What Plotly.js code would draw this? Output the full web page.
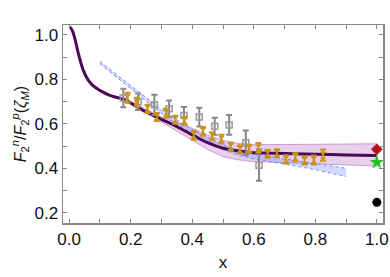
<!DOCTYPE html>
<html>
<head>
<meta charset="utf-8">
<script src="https://cdn.plot.ly/plotly-3.0.1.min.js"></script>
<style>html,body{margin:0;padding:0;background:#fff;}#chart{width:390px;height:277px;}</style>
</head>
<body>
<div id="chart"></div>
<script>
// Main curve
const curveX = [0.002,0.01,0.02,0.03,0.046,0.062,0.075,0.09,0.11,0.13,0.155,0.18,0.21,0.24,0.27,0.30,0.35,0.40,0.45,0.50,0.55,0.60,0.65,0.70,0.80,0.90,1.0];
const curveY = [1.035,1.02,0.975,0.915,0.84,0.796,0.775,0.759,0.742,0.729,0.718,0.708,0.685,0.66,0.64,0.62,0.587,0.55,0.515,0.49,0.478,0.47,0.468,0.466,0.463,0.46,0.457];
// Pink uncertainty band
const bandX = [0.2,0.25,0.3,0.35,0.4,0.45,0.5,0.55,0.6,0.7,0.8,0.9,1.0];
const bandUp = [0.70,0.665,0.63,0.605,0.58,0.55,0.525,0.512,0.506,0.507,0.509,0.51,0.51];
const bandLo = [0.69,0.652,0.608,0.568,0.527,0.485,0.452,0.438,0.43,0.425,0.42,0.415,0.41];
// Blue band
const blueX = [0.1,0.15,0.2,0.25,0.3,0.35,0.4,0.45,0.5,0.55,0.6,0.65,0.7,0.8,0.9];
const blueUp = [0.88,0.826,0.772,0.718,0.664,0.618,0.574,0.54,0.506,0.481,0.466,0.453,0.442,0.422,0.40];
const blueLo = [0.87,0.814,0.758,0.702,0.646,0.6,0.556,0.52,0.484,0.459,0.442,0.431,0.418,0.394,0.362];
// Gold data points
const goldX = [0.19,0.22,0.255,0.285,0.315,0.345,0.375,0.405,0.435,0.465,0.495,0.525,0.555,0.585,0.615,0.645,0.675,0.705,0.735,0.765,0.795,0.825];
const goldY = [0.717,0.697,0.667,0.631,0.648,0.618,0.614,0.548,0.566,0.544,0.531,0.497,0.485,0.488,0.492,0.465,0.468,0.44,0.45,0.435,0.437,0.459];
const goldErr = [0.022,0.02,0.018,0.018,0.02,0.018,0.018,0.02,0.02,0.018,0.02,0.018,0.018,0.018,0.022,0.018,0.018,0.018,0.018,0.018,0.02,0.025];
// Gray data points
const grayX = [0.176,0.224,0.277,0.325,0.373,0.423,0.473,0.52,0.574,0.617];
const grayY = [0.716,0.699,0.685,0.667,0.637,0.63,0.589,0.595,0.515,0.414];
const grayErr = [0.042,0.037,0.045,0.038,0.038,0.042,0.038,0.044,0.055,0.07];
// x = 1 endpoints
const endX = [1.0];
const redY = [0.485];
const greenY = [0.427];
const blackY = [0.247];

const traces = [
  {x: bandX, y: bandLo, mode:'lines', line:{color:'rgba(190,120,200,0.7)', width:1}, hoverinfo:'skip', showlegend:false},
  {x: bandX, y: bandUp, mode:'lines', fill:'tonexty', fillcolor:'rgba(205,150,215,0.45)', line:{color:'rgba(190,120,200,0.7)', width:1}, hoverinfo:'skip', showlegend:false},
  {x: blueX, y: blueLo, mode:'lines', line:{color:'rgba(90,110,255,0.8)', width:1, dash:'dot'}, hoverinfo:'skip', showlegend:false},
  {x: blueX, y: blueUp, mode:'lines', fill:'tonexty', fillcolor:'rgba(130,150,255,0.35)', line:{color:'rgba(90,110,255,0.8)', width:1, dash:'dot'}, hoverinfo:'skip', showlegend:false},
  {x: curveX, y: curveY, mode:'lines', line:{color:'#4a0a55', width:3, shape:'spline'}, showlegend:false},
  {x: grayX, y: grayY, mode:'markers', marker:{symbol:'square-open', size:6, color:'#9a9a9a', line:{width:1.5}},
   error_y:{type:'data', array: grayErr, color:'#888', thickness:2, width:3}, showlegend:false},
  {x: goldX, y: goldY, mode:'markers', marker:{symbol:'hourglass', size:7, color:'#c8921c'},
   error_y:{type:'data', array: goldErr, color:'#c8921c', thickness:2, width:3}, showlegend:false},
  {x: endX, y: redY, mode:'markers', marker:{symbol:'diamond', size:9, color:'#b01818'}, showlegend:false},
  {x: endX, y: greenY, mode:'markers', marker:{symbol:'star', size:11, color:'#22c022'}, showlegend:false},
  {x: endX, y: blackY, mode:'markers', marker:{symbol:'circle', size:9, color:'#000'}, showlegend:false}
];

const axisCommon = {
  showgrid:false, zeroline:false, showline:true, linecolor:'#888', linewidth:1.5, mirror:'ticks',
  ticks:'inside', ticklen:4, tickwidth:1, tickcolor:'#888',
  tickfont:{family:'Liberation Sans, Arial, sans-serif', size:17, color:'#111'},
  minor:{dtick:0.1, ticks:'inside', ticklen:4, tickcolor:'#888', tickwidth:1}
};

const layout = {
  width:390, height:277,
  margin:{l:63, r:7, t:25, b:54},
  paper_bgcolor:'#fff', plot_bgcolor:'#fff',
  xaxis: Object.assign({}, axisCommon, {range:[-0.02,1.02], dtick:0.2, tick0:0, tickformat:'.1f',
    title:{text:'x', font:{family:'Liberation Sans, Arial, sans-serif', size:17, color:'#111'}, standoff:8}}),
  yaxis: Object.assign({}, axisCommon, {range:[0.154,1.044], dtick:0.2, tick0:0, tickformat:'.1f',
    title:{text:'<i>F</i><sub>2</sub><sup><i>n</i></sup>/<i>F</i><sub>2</sub><sup><i>p</i></sup>(<i>ζ</i><sub><i>M</i></sub>)', font:{family:'Liberation Sans, Arial, sans-serif', size:16, color:'#111'}, standoff:4}}),
  showlegend:false
};

Plotly.newPlot('chart', traces, layout, {staticPlot:true, displayModeBar:false});
</script>
</body>
</html>
